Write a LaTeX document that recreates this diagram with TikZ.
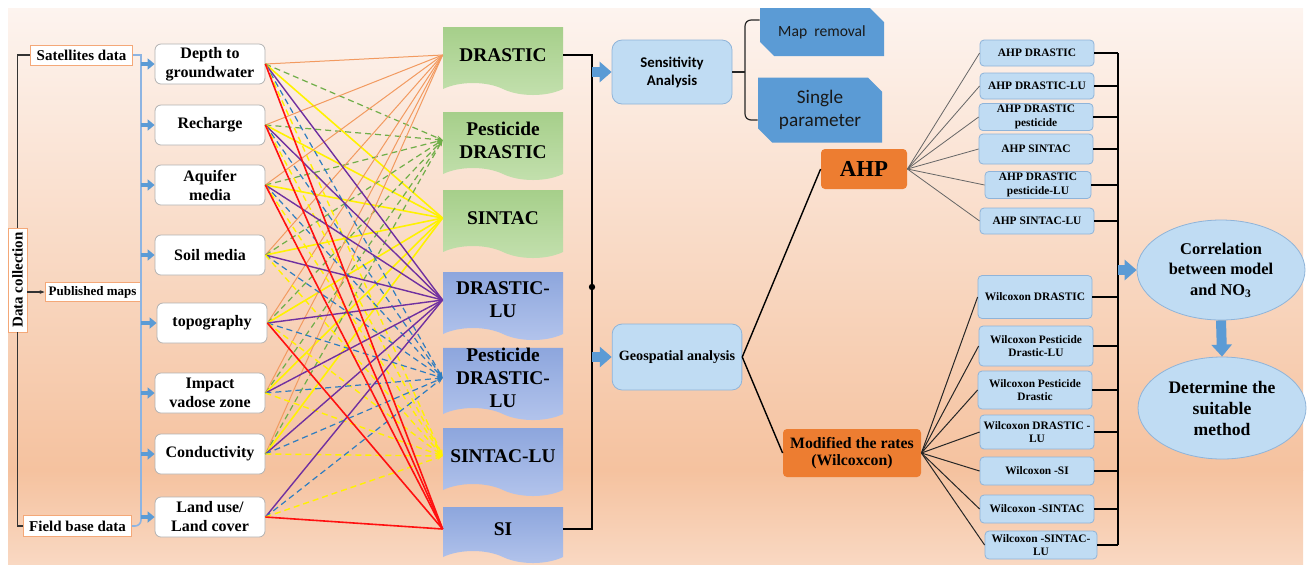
\documentclass[tikz,border=0pt]{standalone}
\usepackage{fontspec}
\setmainfont{Liberation Serif}
\newfontfamily\calib{Carlito}
\usetikzlibrary{shapes.geometric, shapes.symbols, shapes.misc, arrows.meta}

\definecolor{peachtop}{HTML}{FDF4EF}
\definecolor{peach}{HTML}{F5C29F}
\definecolor{peachbot}{HTML}{F9D8C2}
\definecolor{docgreen}{HTML}{A6CF8A}
\definecolor{docgreenlt}{HTML}{C3E0AE}
\definecolor{docblue}{HTML}{8DA6DD}
\definecolor{docbluelt}{HTML}{B3C4EC}
\definecolor{paleblue}{HTML}{C0DCF3}
\definecolor{paleedge}{HTML}{8FB4D9}
\definecolor{boxblue}{HTML}{5B9BD5}
\definecolor{ahporange}{HTML}{ED7D31}
\definecolor{srcedge}{HTML}{F4A878}
\definecolor{baredge}{HTML}{8DB4E2}
\definecolor{lnorange}{HTML}{F29A60}
\definecolor{lngreen}{HTML}{6FAE48}
\definecolor{lnyellow}{HTML}{FFF200}
\definecolor{lnpurple}{HTML}{7030A0}
\definecolor{lnblue}{HTML}{2E7DC0}
\definecolor{lnred}{HTML}{FF1010}

\tikzstyle{srcbox} = [rectangle, draw=srcedge, fill=white, inner sep=1pt, font=\bfseries\fontsize{7.5}{8}\selectfont]
\tikzstyle{param} = [rectangle, rounded corners=3pt, draw=gray!60, fill=white, minimum width=55pt, minimum height=20pt, align=center, inner sep=1pt, font=\bfseries\fontsize{8}{9.5}\selectfont]
\tikzstyle{model} = [tape, tape bend top=none, tape bend bottom=out and in, tape bend height=6pt, minimum width=60pt, minimum height=34pt, inner sep=0pt, align=center, font=\bfseries\fontsize{9.7}{11.6}\selectfont]
\tikzstyle{greendoc} = [model, top color=docgreen, bottom color=docgreenlt]
\tikzstyle{bluedoc} = [model, top color=docblue, bottom color=docbluelt]
\tikzstyle{analysis} = [rectangle, rounded corners=5pt, draw=paleedge, fill=paleblue, minimum width=60pt, minimum height=32pt, align=center]
\tikzstyle{snipbox} = [chamfered rectangle, chamfered rectangle corners={north east, south west}, chamfered rectangle xsep=4pt, fill=boxblue, minimum width=62pt, align=center, text=black!90]
\tikzstyle{method} = [rectangle, rounded corners=2pt, fill=ahporange, align=center]
\tikzstyle{result} = [rectangle, rounded corners=2pt, draw=paleedge, fill=paleblue, minimum width=57pt, align=center, inner sep=1pt, font=\bfseries\fontsize{5.7}{6.6}\selectfont]
\tikzstyle{goal} = [ellipse, draw=paleedge, fill=paleblue, minimum width=84pt, minimum height=50pt, align=center, inner sep=0pt]
\tikzstyle{smallarrow} = [draw=boxblue, line width=2.2pt, -{Triangle[length=3.5pt,width=5.5pt]}]
\tikzstyle{bigarrow} = [draw=boxblue, line width=5pt, -{Triangle[length=6pt,width=10pt]}]
\tikzstyle{lorange} = [draw=lnorange, line width=0.5pt]
\tikzstyle{lgreen} = [draw=lngreen, line width=0.6pt, dash pattern=on 3pt off 2pt, -{Stealth[length=3pt]}]
\tikzstyle{lyellow} = [draw=lnyellow, line width=0.8pt]
\tikzstyle{lpurple} = [draw=lnpurple, line width=0.7pt]
\tikzstyle{lblue} = [draw=lnblue, line width=0.6pt, dash pattern=on 3pt off 2pt, -{Stealth[length=3pt]}]
\tikzstyle{lyellowd} = [draw=lnyellow, line width=0.7pt, dash pattern=on 3pt off 2pt, -{Stealth[length=3pt]}]
\tikzstyle{lred} = [draw=lnred, line width=0.8pt]

\begin{document}
\begin{tikzpicture}[x=0.5pt, y=-0.5pt]
    \useasboundingbox (0,0) rectangle (1309,564);
    % background
    \fill[top color=peachtop, bottom color=peach] (8,8) rectangle (1303,470);
    \fill[top color=peach, bottom color=peachbot] (8,470) rectangle (1303,564);

    % data sources
    \node (dc) [srcbox, rotate=90, minimum width=52pt, minimum height=9.5pt] at (17.5,280) {Data collection};
    \node (sat) [srcbox, minimum width=51pt, minimum height=10pt] at (81.5,55) {Satellites data};
    \node (pub) [srcbox, minimum width=47.5pt, minimum height=9.5pt, font=\bfseries\fontsize{6.5}{7}\selectfont] at (92.5,292) {Published maps};
    \node (field) [srcbox, minimum width=54pt, minimum height=10.5pt] at (77.5,526) {Field base data};
    \coordinate (bartop) at (141,55);
    \coordinate (barbot) at (141,517);

    \draw[gray!40!black, line width=0.6pt] (dc.east) |- (sat.west);
    \draw[gray!40!black, line width=0.6pt] (dc.west) |- (field.west);
    \draw[gray!40!black, line width=0.6pt, -{Stealth[length=2.5pt]}] (dc.south |- pub.west) -- (pub.west);
    \draw[baredge, line width=0.8pt] (sat.east) -- (bartop) -- (barbot);
    \draw[baredge, line width=0.8pt, rounded corners=3pt] (field.east) -| (barbot);
    \draw[baredge, line width=0.8pt] (pub.east) -- (pub.east -| bartop);

    % parameters
    \node (dtg) [param] at (210,64) {Depth to\\groundwater};
    \node (rch) [param] at (210,125) {Recharge};
    \node (aqm) [param] at (210,185) {Aquifer\\media};
    \node (slm) [param] at (210,255) {Soil media};
    \node (topo) [param] at (212,323) {topography};
    \node (ivz) [param] at (210,393) {Impact\\vadose zone};
    \node (cond) [param] at (210,454) {Conductivity};
    \node (lulc) [param] at (210,517) {Land use/\\Land cover};
    \foreach \p in {dtg,rch,aqm,slm,topo,ivz,cond,lulc}
        \draw[smallarrow] (\p.west -| bartop) -- (\p.west);

    % models
    \node (drastic) [greendoc] at (503,55) {DRASTIC};
    \node (pdrastic) [greendoc] at (503,140) {Pesticide\\DRASTIC};
    \node (sintac) [greendoc] at (503,218) {SINTAC};
    \node (drasticlu) [bluedoc] at (503,300) {DRASTIC-\\LU};
    \node (pdrasticlu) [bluedoc] at (503,378) {Pesticide\\DRASTIC-\\LU};
    \node (sintaclu) [bluedoc] at (503,456) {SINTAC-LU};
    \node (si) [bluedoc, minimum height=28pt] at (503,529) {SI};

    \foreach \p in {dtg,rch,aqm,slm,topo,ivz,cond}{
        \draw[lorange] (\p.east) -- (drastic.west);
        \draw[lgreen] (\p.east) -- (pdrastic.west);
        \draw[lyellow] (\p.east) -- (sintac.west);
    }
    \foreach \p in {dtg,rch,aqm,slm,topo,ivz,cond,lulc}{
        \draw[lpurple] (\p.east) -- (drasticlu.west);
        \draw[lblue] (\p.east) -- (pdrasticlu.west);
        \draw[lyellowd] (\p.east) -- (sintaclu.west);
    }
    \foreach \p in {dtg,rch,aqm,topo,lulc}
        \draw[lred] (\p.east) -- (si.west);

    % analysis
    \coordinate (jn) at (592,287);
    \draw[black, line width=1pt] (drastic.east) -| (jn) |- (si.east);
    \fill (jn) circle (1.6pt);
    \node (sens) [analysis, font=\calib\bfseries\fontsize{7.4}{9}\selectfont] at (672,72) {Sensitivity\\Analysis};
    \node (geo) [analysis, minimum width=64pt, minimum height=33pt, font=\bfseries\fontsize{7.1}{8}\selectfont] at (677,357) {Geospatial analysis};
    \draw[bigarrow] (sens.west -| jn) -- (sens.west);
    \draw[bigarrow] (geo.west -| jn) -- (geo.west);

    \node (maprm) [snipbox, minimum height=24pt, font=\calib\fontsize{7.8}{9}\selectfont] at (822,32) {Map~ removal};
    \node (single) [snipbox, minimum height=26pt, font=\calib\fontsize{9.6}{11.5}\selectfont] at (820,110) {Single\\parameter};
    \coordinate (brc) at (745,72);
    \draw[gray!30!black, line width=0.6pt] (sens.east) -- (brc);
    \draw[gray!30!black, line width=0.6pt, rounded corners=3pt] ([yshift=6pt]maprm.west) -| (brc) |- ([yshift=-5pt]single.west);

    \node (ahp) [method, minimum width=43pt, minimum height=20pt, font=\bfseries\fontsize{11.4}{13}\selectfont] at (864,169) {AHP};
    \node (mod) [method, minimum width=69pt, minimum height=24pt, font=\bfseries\fontsize{7.9}{8.6}\selectfont] at (852,453) {Modified the rates\\(Wilcoxcon)};
    \draw[black, line width=0.7pt] (geo.east) -- (ahp.west);
    \draw[black, line width=0.7pt] (geo.east) -- (mod.west);

    % results
    \node (a1) [result, minimum height=13pt] at (1037,53) {AHP DRASTIC};
    \node (a2) [result, minimum height=13pt] at (1037,86) {AHP DRASTIC-LU};
    \node (a3) [result, minimum height=13pt] at (1036,117) {AHP DRASTIC\\pesticide};
    \node (a4) [result, minimum height=15pt] at (1036,149) {AHP SINTAC};
    \node (a5) [result, minimum height=13.5pt, minimum width=53pt] at (1038,185) {AHP DRASTIC\\pesticide-LU};
    \node (a6) [result, minimum height=13pt] at (1037,221) {AHP SINTAC-LU};
    \node (w1) [result, minimum height=21.5pt] at (1035,297) {Wilcoxon DRASTIC};
    \node (w2) [result, minimum height=20pt] at (1036,346) {Wilcoxon Pesticide\\Drastic-LU};
    \node (w3) [result, minimum height=19pt] at (1035,390) {Wilcoxon Pesticide\\Drastic};
    \node (w4) [result, minimum height=17pt] at (1037,432) {Wilcoxon DRASTIC -\\LU};
    \node (w5) [result, minimum height=14pt] at (1037,471) {Wilcoxon -SI};
    \node (w6) [result, minimum height=14pt] at (1037,509) {Wilcoxon -SINTAC};
    \node (w7) [result, minimum height=14pt, minimum width=56pt] at (1041,545) {Wilcoxon -SINTAC-\\LU};
    \foreach \r in {a1,a2,a3,a4,a5,a6}
        \draw[gray!80!black, line width=0.4pt] (ahp.east) -- (\r.west);
    \foreach \r in {w1,w2,w3,w4,w5,w6,w7}
        \draw[gray!30!black, line width=0.5pt] (mod.east) -- (\r.west);

    \coordinate (rs) at (1118,270);
    \foreach \r in {a1,a2,a3,a4,a5,a6,w1,w2,w3,w4,w5,w6,w7}
        \draw[black, line width=1pt] (\r.east) -- (\r.east -| rs);
    \draw[black, line width=1pt] (a1.east -| rs) -- (w7.east -| rs);

    \node (corr) [goal, font=\bfseries\fontsize{8.2}{10.3}\selectfont] at (1221,270) {Correlation\\between model\\and NO\textsubscript{3}};
    \node (det) [goal, minimum height=51pt, font=\bfseries\fontsize{8.8}{10.5}\selectfont] at (1222,408) {Determine the\\suitable\\method};
    \draw[bigarrow] (corr.west -| rs) -- (corr.west);
    \draw[bigarrow] (corr.south) -- (det.north);
\end{tikzpicture}
\end{document}
